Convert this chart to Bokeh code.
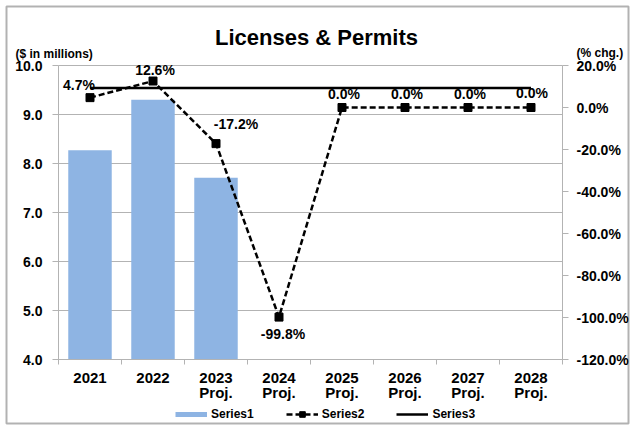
import math
from bokeh.plotting import figure
from bokeh.models import (Range1d, LinearAxis, FixedTicker, PrintfTickFormatter, Label,
                          Legend, LegendItem, ColumnDataSource, CustomJSTickFormatter,
                          BoxAnnotation)
from bokeh.core.properties import value
from bokeh.embed import file_html
from bokeh.resources import INLINE

# ---------------- data ----------------
years = ["2021", "2022", "2023", "2024", "2025", "2026", "2027", "2028"]
year_note = ["", "", "Proj.", "Proj.", "Proj.", "Proj.", "Proj.", "Proj."]
revenue_millions = [8.27, 9.30, 7.71, math.nan, math.nan, math.nan, math.nan, math.nan]  # Series1
pct_change = [4.7, 12.6, -17.2, -99.8, 0.0, 0.0, 0.0, 0.0]                 # Series2
series3 = [9.54, 9.54, 9.54, 9.54, 9.54, 9.54, 9.54, 9.54]                 # Series3
left_ticks = [4, 5, 6, 7, 8, 9, 10]
right_ticks = [-120, -100, -80, -60, -40, -20, 0, 20]
title_text = "Licenses & Permits"
left_unit = "($ in millions)"
right_unit = "(% chg.)"

# ---------------- styles / layout (pixels) ----------------
FONT = "Liberation Sans"
BAR_COLOR = "#8EB4E3"
GRID = "#b3b3b3"
label_dx = [-11, 2, 20, 4, 2, 2, 2, 1]
label_dy = [-13, -11, -20, 17, -14, -14, -14, -15]
W, H = 631, 426
PL, PR, PT, PB = 58, 562, 65, 359      # plot-area edges on the canvas

n = len(years)
x = [i + 1 for i in range(n)]
ymin, ymax = min(left_ticks), max(left_ticks)
rmin, rmax = min(right_ticks), max(right_ticks)

ppx = (PR - PL) / n
x_start = 0.5 - PL / ppx
x_end = n + 0.5 + (W - PR) / ppx
ppy = (PB - PT) / (ymax - ymin)
y_start = ymin - (H - PB) / ppy
y_end = ymax + PT / ppy
ppr = (PB - PT) / (rmax - rmin)
r_start = rmin - (H - PB) / ppr
r_end = rmax + PT / ppr


def px2x(px):
    return x_start + px / ppx


def py2y(py):
    return y_end - py / ppy


p = figure(width=W, height=H, x_range=Range1d(x_start, x_end), y_range=Range1d(y_start, y_end),
           output_backend="svg", toolbar_location=None, min_border=0,
           min_border_left=0, min_border_right=0, min_border_top=0, min_border_bottom=0)
p.title.text = ""
p.outline_line_color = None
p.background_fill_color = "white"
p.border_fill_color = "white"
p.grid.visible = False
p.extra_y_ranges = {"pct": Range1d(r_start, r_end)}


def style_labels(ax, size):
    ax.major_label_text_font = FONT
    ax.major_label_text_font_style = "bold"
    ax.major_label_text_font_size = size
    ax.major_label_text_color = "black"


def label_formatter(labels):
    return CustomJSTickFormatter(args=dict(labels=labels),
                                 code="const i = Math.round(tick) - 1; return (i >= 0 && i < labels.length) ? labels[i] : '';")


# ---------------- axes (pinned to the plot-area edges) ----------------
xa = p.xaxis[0]
xa.fixed_location = ymin
xa.bounds = (0.5, n + 0.5)
xa.ticker = FixedTicker(ticks=x, minor_ticks=[v - 0.5 for v in x] + [x[-1] + 0.5])
xa.formatter = label_formatter(years)
xa.major_tick_line_color = None
xa.major_tick_out = 0
xa.minor_tick_out = 5
xa.minor_tick_in = 0
xa.minor_tick_line_color = GRID
xa.axis_line_color = GRID
xa.major_label_standoff = 8
style_labels(xa, "15px")

xa2 = LinearAxis(fixed_location=ymin, bounds=(0.5, n + 0.5),
                 ticker=FixedTicker(ticks=x, minor_ticks=[]),
                 formatter=label_formatter(year_note))
xa2.axis_line_color = None
xa2.major_tick_line_color = None
xa2.minor_tick_line_color = None
xa2.major_tick_out = 0
xa2.major_label_standoff = 24
style_labels(xa2, "15px")
p.add_layout(xa2, "below")

ya = p.yaxis[0]
ya.fixed_location = 0.5
ya.bounds = (ymin, ymax)
ya.ticker = FixedTicker(ticks=left_ticks, minor_ticks=[])
ya.formatter = PrintfTickFormatter(format="%.1f")
ya.axis_line_color = GRID
ya.major_tick_line_color = GRID
ya.major_tick_out = 6
ya.major_tick_in = 0
ya.minor_tick_line_color = None
ya.major_label_standoff = 10
style_labels(ya, "14px")

ra = LinearAxis(y_range_name="pct", fixed_location=n + 0.5, bounds=(rmin, rmax),
                ticker=FixedTicker(ticks=right_ticks, minor_ticks=[]),
                formatter=PrintfTickFormatter(format="%.1f%%"))
ra.axis_line_color = GRID
ra.major_tick_line_color = GRID
ra.major_tick_out = 6
ra.major_tick_in = 0
ra.minor_tick_line_color = None
ra.major_label_standoff = 8
style_labels(ra, "14px")
p.add_layout(ra, "right")

# horizontal gridlines at the left-axis ticks, across the plot area only
p.segment(x0=[0.5] * len(left_ticks), x1=[n + 0.5] * len(left_ticks),
          y0=left_ticks, y1=left_ticks, line_color=GRID, line_width=1, level="underlay")

# ---------------- series ----------------
src = ColumnDataSource(dict(
    x=x, rev=revenue_millions, pct=pct_change, s3=series3,
    lab=[f"{v:.1f}%" for v in pct_change], dx=label_dx, dy=label_dy,
))

bars = p.vbar(x="x", top="rev", bottom=ymin, width=0.69, source=src,
              fill_color=BAR_COLOR, line_color=None)
line3 = p.line(x="x", y="s3", source=src, line_color="black", line_width=2.5)
line2 = p.line(x="x", y="pct", source=src, y_range_name="pct", line_color="black",
               line_width=2.5, line_dash="6 3")
mk2 = p.scatter(x="x", y="pct", source=src, y_range_name="pct", marker="square",
                size=8, fill_color="black", line_color="black")
p.text(x="x", y="pct", text="lab", source=src, y_range_name="pct",
       x_offset="dx", y_offset="dy", text_align="center", text_baseline="middle",
       text_font=value(FONT), text_font_style="bold", text_font_size="14px",
       text_color="black")

# ---------------- legend ----------------
proxy1 = p.line(x=[math.nan], y=[math.nan], line_color=BAR_COLOR, line_width=5)
legend = Legend(items=[
    LegendItem(label="Series1", renderers=[proxy1]),
    LegendItem(label="Series2", renderers=[line2, mk2]),
    LegendItem(label="Series3", renderers=[line3]),
], orientation="horizontal", location=(175, 5), glyph_width=32, glyph_height=14,
    label_standoff=4, spacing=32, padding=0, margin=0,
    border_line_color=None, background_fill_alpha=0,
    label_text_font=FONT, label_text_font_style="bold", label_text_font_size="12px",
    label_text_color="black", label_height=14)
p.add_layout(legend)

# ---------------- titles ----------------
p.add_layout(Label(x=px2x(316), y=py2y(37), text=title_text,
                   text_align="center", text_baseline="alphabetic", text_font=FONT,
                   text_font_style="bold", text_font_size="22px", text_color="black"))
p.add_layout(Label(x=px2x(15), y=py2y(53), text=left_unit,
                   text_align="left", text_baseline="alphabetic", text_font=FONT,
                   text_font_style="bold", text_font_size="12px", text_color="black"))
p.add_layout(Label(x=px2x(576), y=py2y(52), text=right_unit,
                   text_align="left", text_baseline="alphabetic", text_font=FONT,
                   text_font_style="bold", text_font_size="12px", text_color="black"))

# chart border
p.add_layout(BoxAnnotation(left=px2x(6), right=px2x(628), top=py2y(6), bottom=py2y(423),
                           fill_alpha=0, line_color="black", line_width=2))

open("out.html", "w").write(file_html(p, INLINE))
